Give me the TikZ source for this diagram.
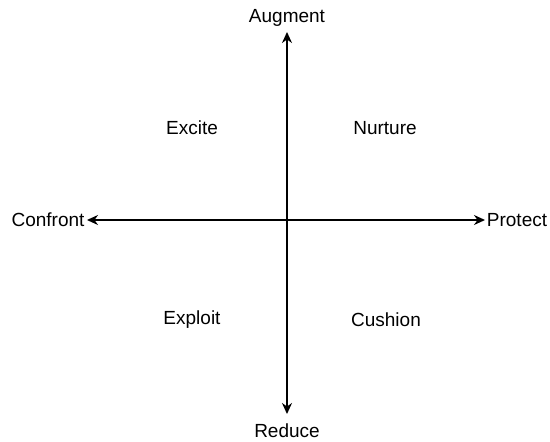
\documentclass[tikz,border=0pt]{standalone}
\usepackage{fontspec}
\setmainfont{Liberation Sans}
\usetikzlibrary{arrows.meta}
\begin{document}
\begin{tikzpicture}[x=1pt,y=-1pt,
  lbl/.style={font=\fontsize{19}{22}\selectfont, inner sep=0pt},
  axis/.style={line width=1.8pt, {Stealth[length=11pt,width=10pt]}-{Stealth[length=11pt,width=10pt]}}]
\useasboundingbox (0,0) rectangle (550,442);
\node[lbl] (aug) at (287,18) {Augment};
\node[lbl] (red) at (287,431) {Reduce};
\node[lbl] (con) at (48,220) {Confront};
\node[lbl] (pro) at (517,220) {Protect};
\node[lbl] at (192,128) {Excite};
\node[lbl] at (385,128) {Nurture};
\node[lbl] at (192,320) {Exploit};
\node[lbl] at (386,320) {Cushion};
\coordinate (top) at (287,32);
\coordinate (bot) at (287,414);
\coordinate (lft) at (87,220);
\coordinate (rgt) at (485,220);
\draw[axis] (top) -- (bot);
\draw[axis] (lft) -- (rgt);
\end{tikzpicture}
\end{document}
